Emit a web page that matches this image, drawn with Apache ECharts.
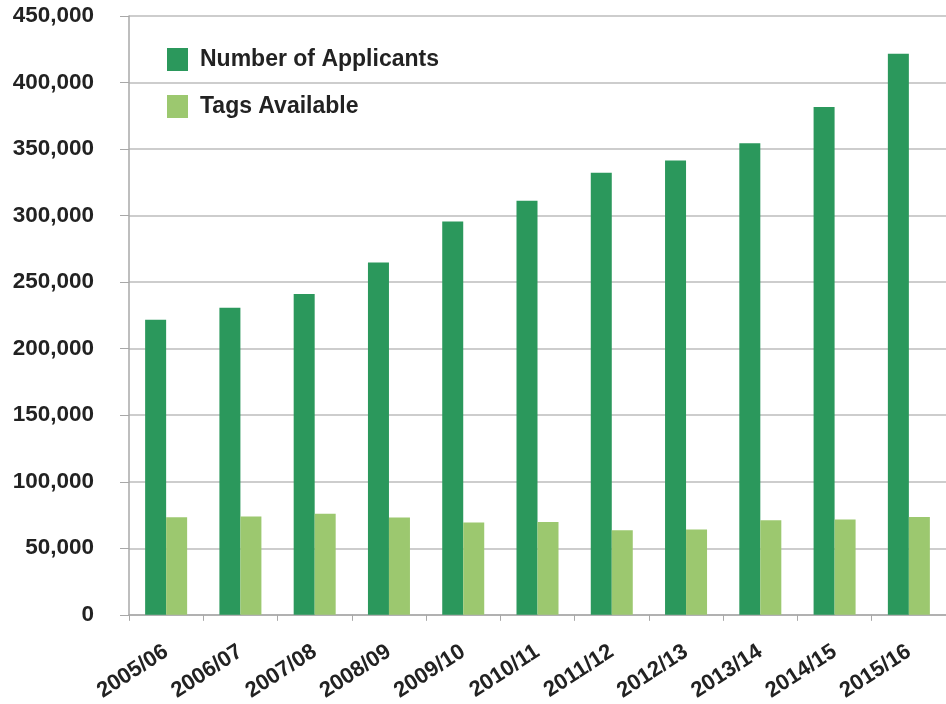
<!DOCTYPE html>
<html>
<head>
<meta charset="utf-8">
<script src="https://cdn.jsdelivr.net/npm/echarts@6/dist/echarts.min.js"></script>
<style>
  html, body { margin: 0; padding: 0; background: #fff; }
  #chart { width: 946px; height: 704px; }
</style>
</head>
<body>
<div id="chart"></div>
<script>
// chart data
var seasons = ['2005/06', '2006/07', '2007/08', '2008/09', '2009/10', '2010/11',
               '2011/12', '2012/13', '2013/14', '2014/15', '2015/16'];
var applicants = [221800, 230800, 241100, 264700, 295500, 311100,
                  332300, 341400, 354400, 381600, 421700];
var tagsAvailable = [73400, 73900, 75900, 73200, 69400, 69800,
                     63600, 64200, 71000, 71600, 73500];
var seriesNames = ['Number of Applicants', 'Tags Available'];

var font = 'Liberation Sans, Arial, sans-serif';
var myChart = echarts.init(document.getElementById('chart'));

var option = {
  animation: false,
  backgroundColor: '#ffffff',
  color: ['#2b985c', '#9cc86f'],
  legend: {
    data: seriesNames,
    orient: 'vertical',
    left: 167,
    top: 48,
    padding: 0,
    itemWidth: 21,
    itemHeight: 23,
    itemGap: 24,
    icon: 'rect',
    textStyle: {
      fontFamily: font,
      fontSize: 23,
      fontWeight: 'bold',
      color: '#222',
      padding: [2, 0, 0, 7]
    }
  },
  grid: {
    left: 129,
    top: 16,
    width: 825,
    height: 599,
    containLabel: false
  },
  xAxis: {
    type: 'category',
    data: seasons,
    boundaryGap: true,
    axisLine: { show: true, lineStyle: { color: '#a8a8a8', width: 1.5 } },
    axisTick: { show: true, length: 6, lineStyle: { color: '#a8a8a8' } },
    axisLabel: {
      interval: 0,
      rotate: 33,
      margin: 35,
      color: '#222',
      fontFamily: font,
      fontSize: 22,
      fontWeight: 'bold'
    }
  },
  yAxis: {
    type: 'value',
    min: 0,
    max: 450000,
    interval: 50000,
    axisLine: { show: true, lineStyle: { color: '#a8a8a8', width: 1.5 } },
    axisTick: { show: true, length: 9, lineStyle: { color: '#a8a8a8' } },
    splitLine: { show: true, lineStyle: { color: '#bdbdbd', width: 1.5 } },
    axisLabel: {
      margin: 35,
      color: '#222',
      fontFamily: font,
      fontSize: 22.5,
      fontWeight: 'bold',
      formatter: function (v) {
        return v.toString().replace(/\B(?=(\d{3})+(?!\d))/g, ',');
      }
    }
  },
  series: [
    {
      name: seriesNames[0],
      type: 'bar',
      data: applicants,
      barWidth: 21,
      barGap: '0%'
    },
    {
      name: seriesNames[1],
      type: 'bar',
      data: tagsAvailable,
      barWidth: 21,
      barGap: '0%'
    }
  ]
};

myChart.setOption(option, true);
</script>
</body>
</html>
